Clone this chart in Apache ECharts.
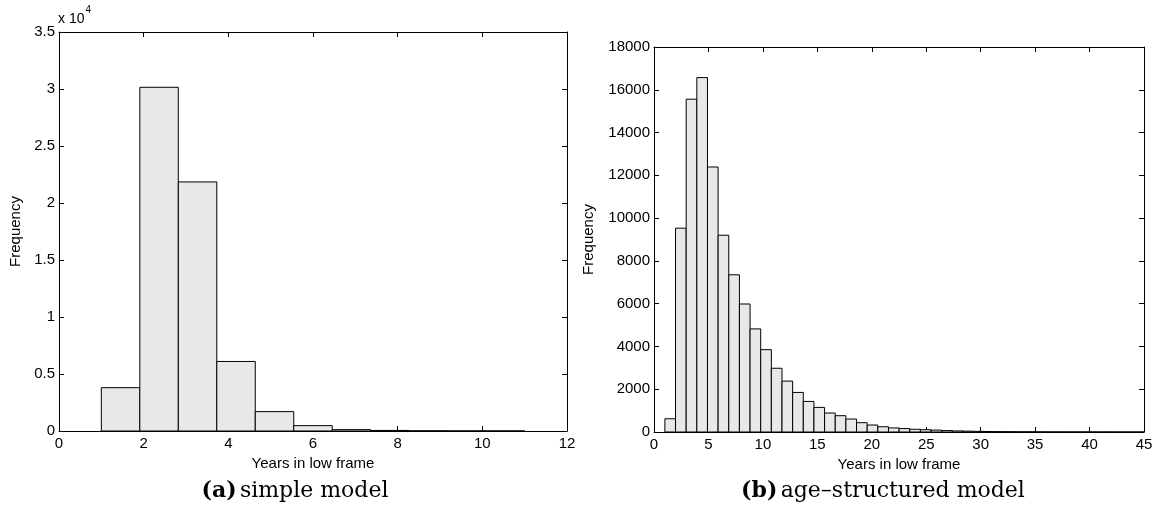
<!DOCTYPE html>
<html>
<head>
<meta charset="utf-8">
<script src="https://cdn.jsdelivr.net/npm/echarts@6/dist/echarts.min.js"></script>
<style>
html,body{margin:0;padding:0;background:#fff;}
#c{width:1158px;height:518px;}
</style>
</head>
<body>
<div id="c"></div>
<script>
// ---- Data ----
// (a) simple model: 11 bins spanning 1..11 years
const simpleRange = [1, 11];
const simpleCounts = [3800, 30150, 21850, 6100, 1700, 470, 120, 50, 15, 8, 5];
// (b) age-structured model: 45 bins spanning 1..45 years
const ageRange = [1, 45];
const ageCounts = [620, 9530, 15560, 16570, 12390, 9200, 7350, 5985, 4820, 3850,
  2980, 2380, 1850, 1430, 1150, 888, 762, 606, 436, 327,
  245, 190, 160, 128, 108, 88, 68, 50, 40, 30,
  22, 18, 14, 10, 8, 6, 5, 4, 3, 3, 2, 2, 1, 1, 1];
const simpleXTicks = [0, 2, 4, 6, 8, 10, 12];
const simpleYTicks = [0, 5000, 10000, 15000, 20000, 25000, 30000, 35000];
const ageXTicks = [0, 5, 10, 15, 20, 25, 30, 35, 40, 45];
const ageYTicks = [0, 2000, 4000, 6000, 8000, 10000, 12000, 14000, 16000, 18000];
const xName = 'Years in low frame';
const yName = 'Frequency';

function bins(range, counts) {
  const w = (range[1] - range[0]) / counts.length;
  return counts.map((c, i) => [range[0] + i * w, range[0] + (i + 1) * w, c]);
}

const FONT = 'Liberation Sans, Arial, sans-serif';
const SERIF = 'DejaVu Serif, Liberation Serif, serif';
const tickInside = {show: true, inside: true, length: 5, lineStyle: {color: '#000', width: 1}};
const lineStyle = {show: true, onZero: false, lineStyle: {color: '#000', width: 1}};
const lbl = {color: '#000', fontSize: 15, fontFamily: FONT};

function axesFor(gridIndex, xt, yt, yFmt, yGap) {
  const xmin = xt[0], xmax = xt[xt.length - 1], xint = xt[1] - xt[0];
  const ymin = yt[0], ymax = yt[yt.length - 1], yint = yt[1] - yt[0];
  const xs = [
    {type: 'value', gridIndex, min: xmin, max: xmax, interval: xint, position: 'bottom',
     axisLine: lineStyle, axisTick: tickInside, splitLine: {show: false},
     axisLabel: Object.assign({margin: 5}, lbl),
     name: xName, nameLocation: 'middle', nameGap: 25,
     nameTextStyle: {color: '#000', fontSize: 15, fontFamily: FONT}},
    {type: 'value', gridIndex, min: xmin, max: xmax, interval: xint, position: 'top',
     axisLine: lineStyle, axisTick: tickInside, splitLine: {show: false}, axisLabel: {show: false}}
  ];
  const ys = [
    {type: 'value', gridIndex, min: ymin, max: ymax, interval: yint, position: 'left',
     axisLine: lineStyle, axisTick: tickInside, splitLine: {show: false},
     axisLabel: Object.assign({margin: 4, formatter: yFmt}, lbl),
     name: yName, nameLocation: 'middle', nameGap: yGap, nameRotate: 90,
     nameTextStyle: {color: '#000', fontSize: 15, fontFamily: FONT}},
    {type: 'value', gridIndex, min: ymin, max: ymax, interval: yint, position: 'right',
     axisLine: lineStyle, axisTick: tickInside, splitLine: {show: false}, axisLabel: {show: false}}
  ];
  return {xs, ys};
}

const a = axesFor(0, simpleXTicks, simpleYTicks, v => String(v / 10000), 36);
const b = axesFor(1, ageXTicks, ageYTicks, v => String(v), 58);

function renderBar(params, api) {
  const p0 = api.coord([api.value(0), api.value(2)]);
  const p1 = api.coord([api.value(1), 0]);
  return {
    type: 'rect',
    shape: {x: p0[0], y: p0[1], width: p1[0] - p0[0], height: p1[1] - p0[1]},
    style: {fill: '#e8e8e8', stroke: '#000', lineWidth: 1}
  };
}

const chart = echarts.init(document.getElementById('c'), null, {renderer: 'canvas'});
chart.setOption({
  backgroundColor: '#fff',
  animation: false,
  grid: [
    {left: 59, top: 32, width: 508, height: 399},
    {left: 654, top: 47, width: 490, height: 385}
  ],
  xAxis: a.xs.concat(b.xs.map(x => Object.assign(x, {gridIndex: 1}))),
  yAxis: a.ys.concat(b.ys.map(y => Object.assign(y, {gridIndex: 1}))),
  series: [
    {type: 'custom', xAxisIndex: 0, yAxisIndex: 0, renderItem: renderBar,
     data: bins(simpleRange, simpleCounts), z: 1},
    {type: 'custom', xAxisIndex: 2, yAxisIndex: 2, renderItem: renderBar,
     data: bins(ageRange, ageCounts), z: 1}
  ],
  graphic: [
    {type: 'text', left: 58, top: 5,
     style: {text: '{b|x 10}{s|4}', rich: {
       b: {fontSize: 14, fontFamily: FONT, fill: '#000', verticalAlign: 'bottom', padding: [7,0,0,0]},
       s: {fontSize: 10, fontFamily: FONT, fill: '#000', verticalAlign: 'top', padding: [0,0,8,1]}
     }}},
    {type: 'text', x: 295, y: 491,
     style: {text: '{bold|(a)} {n|simple model}', align: 'center', verticalAlign: 'middle', rich: {
       bold: {fontSize: 22, fontWeight: 'bold', fontFamily: SERIF, fill: '#000'},
       n: {fontSize: 22, fontFamily: SERIF, fill: '#000'}
     }}},
    {type: 'text', x: 883, y: 491,
     style: {text: '{bold|(b)} {n|age–structured model}', align: 'center', verticalAlign: 'middle', rich: {
       bold: {fontSize: 22, fontWeight: 'bold', fontFamily: SERIF, fill: '#000'},
       n: {fontSize: 22, fontFamily: SERIF, fill: '#000'}
     }}}
  ]
});
</script>
</body>
</html>
